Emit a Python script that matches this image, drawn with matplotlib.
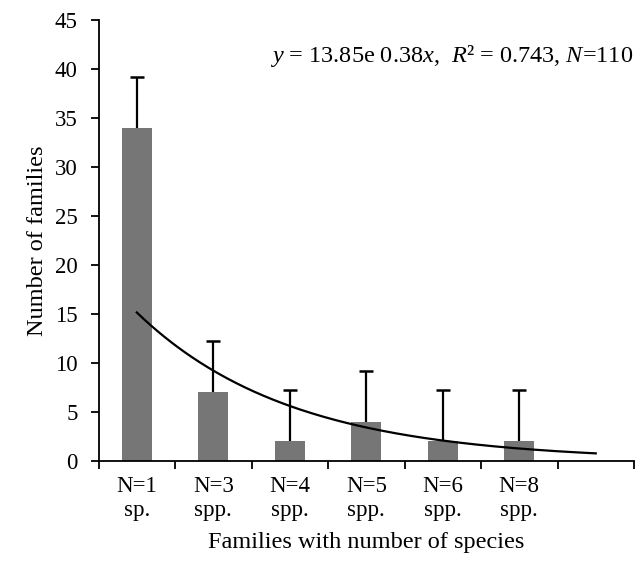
import numpy as np
import matplotlib
matplotlib.use("Agg")
import matplotlib.pyplot as plt

# Data
categories = ["N=1\nsp.", "N=3\nspp.", "N=4\nspp.", "N=5\nspp.", "N=6\nspp.", "N=8\nspp."]
families = [34, 7, 2, 4, 2, 2]
errors = [5.2, 5.2, 5.2, 5.2, 5.2, 5.2]
n_slots = 7  # the category axis has one empty slot at the end
trend_a = 24.9   # exponential trendline as drawn: y = a * exp(-b * x), x = 1..7
trend_b = 0.497
equation = "$y$ = 13.85e 0.38$x$,  $R$² = 0.743, $N$=110"

plt.rcParams["font.family"] = ["Liberation Serif", "DejaVu Serif"]
plt.rcParams["mathtext.fontset"] = "custom"
plt.rcParams["mathtext.rm"] = "Liberation Serif"
plt.rcParams["mathtext.it"] = "Liberation Serif:italic"

fig = plt.figure(figsize=(6.44, 5.69), dpi=100)
ax = fig.add_axes([0.153, 0.19, 0.8315, 0.775])

x = np.arange(len(families))
vals = np.array(families, dtype=float)
errs = np.array(errors, dtype=float)
ax.bar(x, vals, width=0.39, color="#767676", zorder=2)
ax.vlines(x, vals, vals + errs, color="black", lw=1.6, zorder=3)
ax.plot(x, vals + errs, linestyle="none", marker="_", markersize=10,
        markeredgewidth=1.8, color="black", zorder=3)

xs = np.linspace(1, n_slots, 200)
ax.plot(xs - 1, trend_a * np.exp(-trend_b * xs), color="black", lw=1.6, zorder=4)

ax.set_xlim(-0.5, n_slots - 0.5)
ax.set_ylim(0, 45)
ax.set_yticks(np.arange(0, 46, 5))
ax.set_xticks(np.arange(-0.5, n_slots, 1))
ax.set_xticklabels([])
ax.set_xticks(x, minor=True)
ax.set_xticklabels(categories, minor=True, fontsize=16.5, linespacing=1.15)
ax.tick_params(axis="x", which="minor", length=0, pad=11)
ax.tick_params(axis="x", which="major", length=6, width=1.3, direction="out")
ax.tick_params(axis="y", length=6, width=1.3, direction="out", labelsize=16.5, pad=9)

for s in ["top", "right"]:
    ax.spines[s].set_visible(False)
for s in ["left", "bottom"]:
    ax.spines[s].set_linewidth(1.3)

ax.set_ylabel("Number of families", fontsize=17.5, labelpad=5)
ax.set_xlabel("Families with number of species", fontsize=17.5, labelpad=8)

ax.text(0.999, 0.918, equation, transform=ax.transAxes, ha="right", va="center", fontsize=17.5)

fig.savefig("out.png", dpi=100)
